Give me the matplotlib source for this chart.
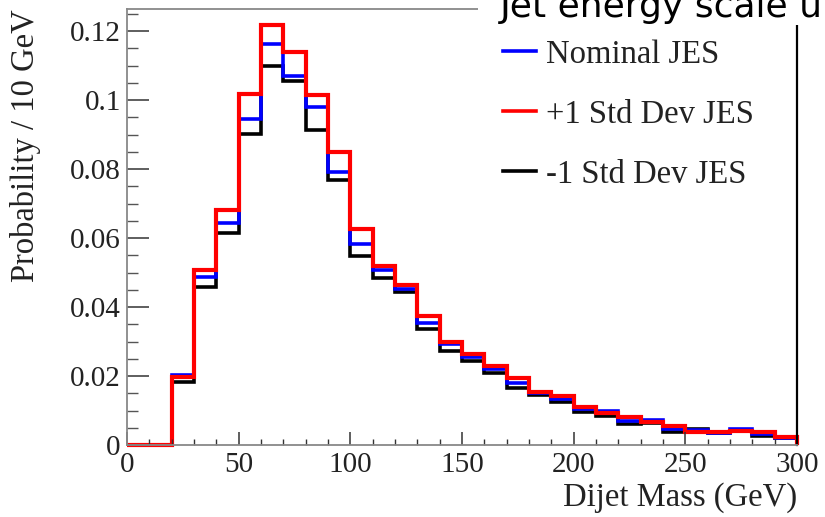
import numpy as np
import matplotlib
matplotlib.use("Agg")
import matplotlib.pyplot as plt
from matplotlib.ticker import MultipleLocator, FixedLocator, FixedFormatter
from matplotlib.patches import Rectangle

# Dijet mass binning (10 GeV bins from 0 to 300 GeV)
bin_edges = np.arange(0, 310, 10)

# Normalised dijet mass distributions for the three JES settings
nominal_jes = [0.0, 0.0, 0.0203, 0.0487, 0.0643, 0.0945, 0.1162, 0.1070, 0.0980, 0.0791,
               0.0583, 0.0507, 0.0452, 0.0355, 0.0294, 0.0254, 0.0221, 0.0179, 0.0150, 0.0132,
               0.0104, 0.0099, 0.0069, 0.0072, 0.0046, 0.0044, 0.0034, 0.0045, 0.0033, 0.0020]
plus_1sd_jes = [0.0, 0.0, 0.0197, 0.0507, 0.0681, 0.1017, 0.1217, 0.1139, 0.1014, 0.0849,
                0.0626, 0.0519, 0.0464, 0.0374, 0.0300, 0.0265, 0.0228, 0.0193, 0.0154, 0.0142,
                0.0111, 0.0094, 0.0080, 0.0066, 0.0055, 0.0037, 0.0039, 0.0040, 0.0039, 0.0022]
minus_1sd_jes = [0.0, 0.0, 0.0183, 0.0458, 0.0614, 0.0901, 0.1099, 0.1055, 0.0913, 0.0768,
                 0.0548, 0.0484, 0.0443, 0.0335, 0.0272, 0.0244, 0.0209, 0.0165, 0.0145, 0.0124,
                 0.0097, 0.0083, 0.0061, 0.0063, 0.0039, 0.0045, 0.0036, 0.0040, 0.0025, 0.0019]

series_labels = ["Nominal JES", "+1 Std Dev JES", "-1 Std Dev JES"]
y_ticks = [0.0, 0.02, 0.04, 0.06, 0.08, 0.10, 0.12]
y_tick_labels = ["0", "0.02", "0.04", "0.06", "0.08", "0.1", "0.12"]
x_ticks = [0, 50, 100, 150, 200, 250, 300]
x_tick_labels = ["0", "50", "100", "150", "200", "250", "300"]

serif = ["Liberation Serif", "DejaVu Serif"]

W, H = 825, 517
fig = plt.figure(figsize=(W / 100, H / 100), dpi=100)
ax = fig.add_axes([127 / W, 1 - 445 / H, (797 - 127) / W, (445 - 9) / H])

lw = 2.6
h_minus = ax.stairs(minus_1sd_jes, bin_edges, color="black", linewidth=lw, baseline=0, clip_on=False)
h_nom = ax.stairs(nominal_jes, bin_edges, color="#0000ff", linewidth=lw, baseline=0, clip_on=False)
h_plus = ax.stairs(plus_1sd_jes, bin_edges, color="#ff0000", linewidth=lw + 0.4, baseline=0, clip_on=False)

ax.set_xlim(0, 300)
ax.set_ylim(0, 0.1264)

# ROOT-style inward ticks on the left and bottom only
ax.yaxis.set_major_locator(FixedLocator(y_ticks))
ax.yaxis.set_major_formatter(FixedFormatter(y_tick_labels))
ax.yaxis.set_minor_locator(MultipleLocator(0.005))
ax.xaxis.set_major_locator(FixedLocator(x_ticks))
ax.xaxis.set_major_formatter(FixedFormatter(x_tick_labels))
ax.xaxis.set_minor_locator(MultipleLocator(10))

ax.tick_params(axis="y", which="major", direction="in", length=15.5, width=1.1, color="#333333", pad=4.5)
ax.tick_params(axis="y", which="minor", direction="in", length=8, width=1.0, color="#555555")
ax.tick_params(axis="x", which="major", direction="in", length=9.5, width=1.1, color="#333333", pad=5)
ax.tick_params(axis="x", which="minor", direction="in", length=4.5, width=1.0, color="#333333")
for lab in ax.get_xticklabels() + ax.get_yticklabels():
    lab.set_fontfamily(serif)
    lab.set_fontsize(21)
    lab.set_color("#222222")

for side in ("left", "bottom", "top"):
    ax.spines[side].set_color("#888888")
    ax.spines[side].set_linewidth(1.3)
ax.spines["right"].set_color("black")
ax.spines["right"].set_linewidth(1.6)

ax.set_ylabel("Probability / 10 GeV", fontsize=23.5, family=serif, color="#222222")
ax.yaxis.set_label_coords(-86 / (797 - 127), 1 - (146 - 9) / (445 - 9))
ax.set_xlabel("Dijet Mass (GeV)", fontsize=23.5, family=serif, color="#222222", ha="right")
ax.xaxis.set_label_coords(1.0, -37 / (445 - 9))

leg = ax.legend([h_nom, h_plus, h_minus], series_labels, frameon=False,
                loc="upper left", bbox_to_anchor=(474 / W, 1 - 10 / H),
                bbox_transform=fig.transFigure, prop={"family": serif, "size": 23.5},
                handlelength=1.0, handletextpad=0.3, labelspacing=0.9)
for line in leg.get_lines():
    line.set_linewidth(2.6)
for t in leg.get_texts():
    t.set_color("#222222")

# white text box overlapping the upper-right corner with its caption
fig.patches.append(Rectangle((478 / W, 1 - 25 / H), (W - 478) / W, 25 / H,
                             transform=fig.transFigure, facecolor="white",
                             edgecolor="none", zorder=5))
fig.text(500 / W, 1 - 17 / H, "Jet energy scale uncertainty", fontsize=26,
         family="DejaVu Sans", color="black", ha="left", va="baseline", zorder=6)

fig.savefig("out.png", dpi=100, facecolor="white")
